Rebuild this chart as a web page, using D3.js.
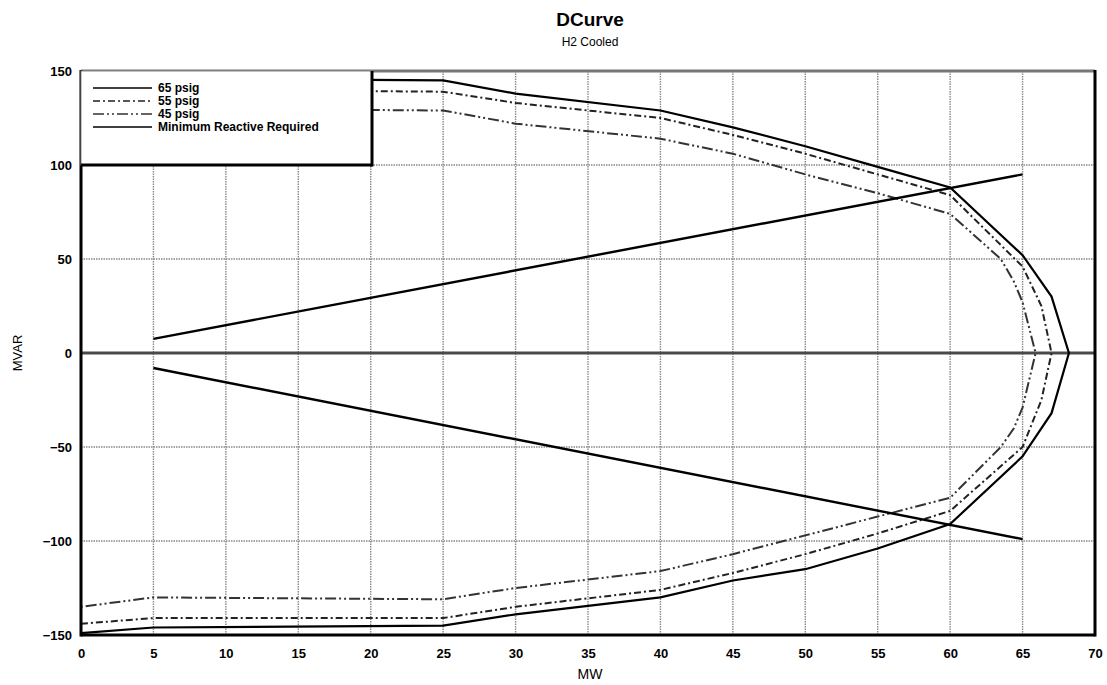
<!DOCTYPE html>
<html>
<head>
<meta charset="utf-8">
<script src="https://cdn.jsdelivr.net/npm/d3@7"></script>
<style>
	body { margin: 0; background: #fff; }
	svg { font-family: "Liberation Sans", Arial, sans-serif; }
</style>
</head>
<body>
<div id="chart"></div>
<script>
// D curve readings, [MW, MVAR], traced from upper left round the nose to lower left
var psig65 = [[0,149],[5,146],[25,145],[30,138],[40,129],[45,120],[50,110],[55,99],[60,88],
	[65,52],[67,30],[68.2,0],[67,-32],[65,-55],[60,-91],[55,-104],[50,-115],[45,-121],
	[40,-130],[30,-139],[25,-145],[5,-146],[0,-149]];
var psig55 = [[0,143],[5,140],[25,139],[30,133],[40,125],[45,116],[50,106],[55,95],[60,84],
	[65,46],[66.3,25],[67,0],[66.3,-25],[65,-50],[60,-84],[55,-96],[50,-107],[45,-117],
	[40,-126],[30,-135],[25,-141],[5,-141],[0,-144]];
var psig45 = [[0,133],[5,130],[25,129],[30,122],[40,114],[45,106],[50,95],[55,85],[60,74],
	[63.5,50],[64.4,38],[65,27],[65.9,0],[65,-29],[64.4,-40],[63.5,-50],[60,-77],[55,-87],
	[50,-97],[45,-107],[40,-116],[30,-125],[25,-131],[5,-130],[0,-135]];
var minReactiveUpper = [[5,7.5],[65,95]];
var minReactiveLower = [[5,-8],[65,-99]];

var xTicks = [0,5,10,15,20,25,30,35,40,45,50,55,60,65,70];
var yTicks = [150,100,50,0,-50,-100,-150];
var legendLabels = ['65 psig', '55 psig', '45 psig', 'Minimum Reactive Required'];

var width = 1107, height = 685;
var margin = {top: 71, right: 12, bottom: 50, left: 81};

var svg = d3.select('#chart').append('svg')
	.attr('width', width)
	.attr('height', height);

var x = d3.scaleLinear().domain([0, 70]).range([margin.left, width - margin.right]);
var y = d3.scaleLinear().domain([-150, 150]).range([height - margin.bottom, margin.top]);

// titles
svg.append('text')
	.attr('x', 590).attr('y', 26)
	.attr('text-anchor', 'middle')
	.attr('font-size', 19).attr('font-weight', 'bold')
	.text('DCurve');
svg.append('text')
	.attr('x', 590).attr('y', 46)
	.attr('text-anchor', 'middle')
	.attr('font-size', 12)
	.text('H2 Cooled');

// grid
var grid = svg.append('g');
grid.selectAll('line.vx').data(xTicks.slice(1, -1)).enter().append('line')
	.attr('x1', x).attr('x2', x)
	.attr('y1', y(150)).attr('y2', y(-150))
	.attr('stroke', '#8a8a8a').attr('stroke-width', 1.4)
	.attr('stroke-dasharray', '1.5,1');
grid.selectAll('line.hy').data(yTicks.filter(function(d) { return d !== 0 && Math.abs(d) !== 150; })).enter().append('line')
	.attr('x1', x(0)).attr('x2', x(70))
	.attr('y1', y).attr('y2', y)
	.attr('stroke', '#8a8a8a').attr('stroke-width', 1.4)
	.attr('stroke-dasharray', '1.5,1');
// zero line
grid.append('line')
	.attr('x1', x(0)).attr('x2', x(70))
	.attr('y1', y(0)).attr('y2', y(0))
	.attr('stroke', '#4a4a4a').attr('stroke-width', 3);

var line = d3.line()
	.x(function(d) { return x(d[0]); })
	.y(function(d) { return y(d[1]); });

var styles = [
	{data: psig65, dash: null, width: 2.2, color: '#000'},
	{data: psig55, dash: '7,3,2,3', width: 2, color: '#222'},
	{data: psig45, dash: '11,3,2,3,2,3', width: 2, color: '#333'}
];

svg.selectAll('path.curve').data(styles).enter().append('path')
	.attr('class', 'curve')
	.attr('d', function(d) { return line(d.data); })
	.attr('fill', 'none')
	.attr('stroke', function(d) { return d.color; })
	.attr('stroke-width', function(d) { return d.width; })
	.attr('stroke-dasharray', function(d) { return d.dash; });

svg.selectAll('path.minr').data([minReactiveUpper, minReactiveLower]).enter().append('path')
	.attr('class', 'minr')
	.attr('d', line)
	.attr('fill', 'none')
	.attr('stroke', '#000')
	.attr('stroke-width', 2.4);

// frame
svg.append('line')
	.attr('x1', x(0)).attr('x2', x(70)).attr('y1', y(150)).attr('y2', y(150))
	.attr('stroke', '#777').attr('stroke-width', 3);
svg.append('line')
	.attr('x1', x(0)).attr('x2', x(0)).attr('y1', y(150) - 1).attr('y2', y(-150) + 1.5)
	.attr('stroke', '#000').attr('stroke-width', 3);
svg.append('line')
	.attr('x1', x(70)).attr('x2', x(70)).attr('y1', y(150) - 1).attr('y2', y(-150) + 1.5)
	.attr('stroke', '#000').attr('stroke-width', 3);
svg.append('line')
	.attr('x1', x(0)).attr('x2', x(70)).attr('y1', y(-150)).attr('y2', y(-150))
	.attr('stroke', '#000').attr('stroke-width', 3);

// axes labels
var xAxis = svg.append('g')
	.attr('transform', 'translate(0,' + (y(-150) + 8) + ')')
	.call(d3.axisBottom(x).tickValues(xTicks).tickSize(0).tickPadding(6));
xAxis.select('.domain').remove();
xAxis.selectAll('text').attr('font-size', 13).attr('font-weight', 'bold')
	.attr('font-family', '"Liberation Sans", Arial, sans-serif').attr('fill', '#000');

var yAxis = svg.append('g')
	.attr('transform', 'translate(' + (x(0) - 6) + ',0)')
	.call(d3.axisLeft(y).tickValues(yTicks).tickSize(0).tickPadding(3));
yAxis.select('.domain').remove();
yAxis.selectAll('text').attr('font-size', 13).attr('font-weight', 'bold')
	.attr('font-family', '"Liberation Sans", Arial, sans-serif').attr('fill', '#000');

svg.append('text')
	.attr('x', 590).attr('y', 679)
	.attr('text-anchor', 'middle')
	.attr('font-size', 14)
	.text('MW');
svg.append('text')
	.attr('transform', 'translate(22,' + y(0) + ') rotate(-90)')
	.attr('text-anchor', 'middle')
	.attr('font-size', 13)
	.text('MVAR');

// legend
var lg = svg.append('g');
var lgRight = 372, lgBottom = y(100);
lg.append('rect')
	.attr('x', x(0)).attr('y', y(150))
	.attr('width', lgRight - x(0)).attr('height', lgBottom - y(150))
	.attr('fill', '#fff').attr('stroke', '#888').attr('stroke-width', 1);
lg.append('line')
	.attr('x1', lgRight).attr('x2', lgRight).attr('y1', y(150)).attr('y2', lgBottom + 1.5)
	.attr('stroke', '#000').attr('stroke-width', 3);
lg.append('line')
	.attr('x1', x(0)).attr('x2', lgRight).attr('y1', lgBottom).attr('y2', lgBottom)
	.attr('stroke', '#000').attr('stroke-width', 3);

var legendItems = [
	{label: legendLabels[0], dash: null, color: '#000'},
	{label: legendLabels[1], dash: '7,3,2,3', color: '#222'},
	{label: legendLabels[2], dash: '11,3,2,3,2,3', color: '#333'},
	{label: legendLabels[3], dash: null, color: '#000'}
];
var rows = lg.selectAll('g.item').data(legendItems).enter().append('g')
	.attr('transform', function(d, i) { return 'translate(0,' + (88 + i * 13) + ')'; });
rows.append('line')
	.attr('x1', 93).attr('x2', 152)
	.attr('stroke', function(d) { return d.color; })
	.attr('stroke-width', 1.6)
	.attr('stroke-dasharray', function(d) { return d.dash; });
rows.append('text')
	.attr('x', 158).attr('y', 4)
	.attr('font-size', 12).attr('font-weight', 'bold')
	.text(function(d) { return d.label; });
</script>
</body>
</html>
